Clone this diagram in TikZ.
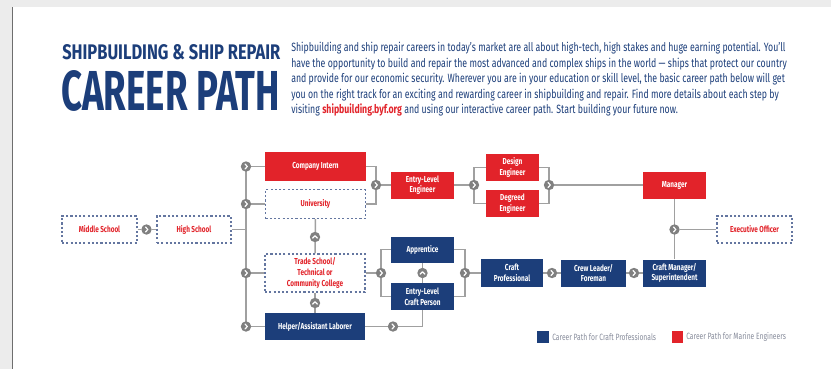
\documentclass[tikz,border=0pt]{standalone}
\usepackage{fontspec}
\usepackage{graphicx}
\usetikzlibrary{backgrounds}
\setmainfont{Fira Sans}
\newfontfamily\condf[FakeStretch=0.73]{Fira Sans}
\newfontfamily\boxf[FakeStretch=0.74]{Fira Sans}
\definecolor{navy}{RGB}{28,62,122}
\definecolor{engred}{RGB}{226,35,42}
\definecolor{dashblue}{RGB}{100,118,160}
\definecolor{conngray}{RGB}{160,160,160}
\definecolor{circgray}{RGB}{128,128,128}
\definecolor{bggray}{RGB}{236,236,236}
\definecolor{edgegray}{RGB}{110,110,110}
\definecolor{leggray}{RGB}{135,140,155}
\tikzset{
  sz/.style 2 args={minimum width={#1*0.75pt},minimum height={#2*0.75pt}},
  labelfont/.style={font=\boxf\bfseries\fontsize{6.5}{8}\selectfont},
  redbox/.style={labelfont,fill=engred,text=white,align=center,inner sep=0pt},
  bluebox/.style={labelfont,fill=navy,text=white,align=center,inner sep=0pt},
  dashbox/.style={labelfont,draw=dashblue,line width=1.1pt,dash pattern=on 1.6pt off 1.6pt,fill=white,text=engred,align=center,inner sep=0pt},
  conn/.style={draw=conngray,line width=1.1pt},
  chevbase/.style={circle,fill=circgray,minimum size=7.8pt,inner sep=0pt},
  rchev/.style={chevbase,path picture={\draw[white,line width=0.9pt,line cap=round,line join=round]
      ([shift={(-0.7pt,1.8pt)}]path picture bounding box.center) -- ++(1.7pt,-1.8pt) -- ++(-1.7pt,-1.8pt);}},
  uchev/.style={chevbase,path picture={\draw[white,line width=0.9pt,line cap=round,line join=round]
      ([shift={(-1.8pt,-0.8pt)}]path picture bounding box.center) -- ++(1.8pt,1.7pt) -- ++(1.8pt,-1.7pt);}},
  legsq/.style={fill=#1,minimum size=8.8pt,inner sep=0pt},
  legtext/.style={text=leggray,font=\boxf\fontsize{6.8}{8}\selectfont,anchor=west,inner sep=0pt}
}
\begin{document}
\begin{tikzpicture}[x=0.75pt,y=-0.75pt]
\useasboundingbox (0,0) rectangle (831,369);
% header
\node[anchor=south west,inner sep=0pt,text=navy] (t1) at (62,60)
  {\resizebox{163.5pt}{11.25pt}{\bfseries SHIPBUILDING \& SHIP REPAIR}};
\node[anchor=south west,inner sep=0pt,text=navy] (t2) at (61,112)
  {\resizebox{164pt}{30pt}{\bfseries CAREER PATH}};
\node[anchor=north west,inner sep=0pt,text=navy,align=left,font=\condf\fontsize{9}{11.6}\selectfont] (para) at (291,42)
  {Shipbuilding and ship repair careers in today’s market are all about high-tech, high stakes and huge earning potential. You’ll\\
   have the opportunity to build and repair the most advanced and complex ships in the world — ships that protect our country\\
   and provide for our economic security. Wherever you are in your education or skill level, the basic career path below will get\\
   you on the right track for an exciting and rewarding career in shipbuilding and repair. Find more details about each step by\\
   visiting {\color{engred}\bfseries shipbuilding.byf.org} and using our interactive career path. Start building your future now.};
% education boxes
\node[dashbox,sz={75}{27}] (ms) at (99.5,229.5) {Middle School};
\node[rchev] (c0) at (146.5,229.5) {};
\node[dashbox,sz={74}{27}] (hs) at (194,229.5) {High School};
% bus circles
\node[rchev] (cb1) at (246,166.5) {};
\node[rchev] (cb2) at (246,204) {};
\node[rchev] (cb3) at (246,273) {};
\node[rchev] (cb4) at (246,326.5) {};
% column 1
\node[redbox,sz={101}{29}] (ci) at (315.5,166.5) {Company Intern};
\node[dashbox,sz={100}{29}] (uni) at (315.5,204) {University};
\node[uchev] (up1) at (315,237) {};
\node[dashbox,sz={100}{38}] (ts) at (315,273) {Trade School/\\Technical or\\Community College};
\node[uchev] (up2) at (315,303) {};
\node[bluebox,sz={100}{27}] (hlp) at (315,326.5) {Helper/Assistant Laborer};
% engineers
\node[rchev] (ce) at (376,185) {};
\node[redbox,sz={63}{27}] (ele) at (422.5,185) {Entry-Level\\Engineer};
\node[rchev] (cf) at (474,185) {};
\node[redbox,sz={53}{27}] (de) at (512.5,167.5) {Design\\Engineer};
\node[redbox,sz={53}{27}] (dg) at (512.5,203.5) {Degreed\\Engineer};
\node[rchev] (cg) at (549,185) {};
\node[redbox,sz={63}{27}] (mgr) at (674.5,185) {Manager};
\node[rchev] (ch) at (674.5,229.5) {};
\node[dashbox,sz={75}{27}] (eo) at (754.5,229.5) {Executive Officer};
% craft
\node[rchev] (ci2) at (381,273) {};
\node[bluebox,sz={63}{26}] (ap) at (422.5,249.5) {Apprentice};
\node[uchev] (up3) at (422.5,273) {};
\node[bluebox,sz={63}{27}] (ecp) at (422.5,296.5) {Entry-Level\\Craft Person};
\node[rchev] (cj) at (465,273) {};
\node[bluebox,sz={62}{28}] (cp) at (512,273) {Craft\\Professional};
\node[rchev] (ck) at (552,273) {};
\node[bluebox,sz={65}{27}] (cl) at (593.5,273) {Crew Leader/\\Foreman};
\node[rchev] (cl2) at (634,273) {};
\node[bluebox,sz={63}{27}] (cm) at (674.5,273) {Craft Manager/\\Superintendent};
\node[rchev] (cm2) at (393,326.5) {};
% legend
\node[legsq=navy] (lg1) at (543,337) {};
\node[legtext] (lt1) at (552,337) {Career Path for Craft Professionals};
\node[legsq=engred] (lg2) at (677.5,337) {};
\node[legtext] (lt2) at (686,337) {Career Path for Marine Engineers};
% background and connectors
\begin{scope}[on background layer]
  \fill[bggray] (0,0) rectangle (831,369);
  \fill[white] (13,7) rectangle (831,369);
  \draw[edgegray,line width=0.8pt] (12.6,7) -- (12.6,369);
  \draw[conn] (ms) -- (c0);
  \draw[conn] (c0) -- (hs);
  \draw[conn] (cb1.center) -- (cb4.center);
  \draw[conn] (hs.east) -- (hs.east -| cb1.center);
  \draw[conn] (cb1) -- (ci);
  \draw[conn] (cb2) -- (uni);
  \draw[conn] (cb3) -- (ts);
  \draw[conn] (cb4) -- (hlp);
  \draw[conn] (uni) -- (ts);
  \draw[conn] (ts) -- (hlp);
  \draw[conn] (ci.east) -| (ce.center);
  \draw[conn] (uni.east) -| (ce.center);
  \draw[conn] (ce) -- (ele);
  \draw[conn] (ele) -- (cf);
  \draw[conn] (cf.center) |- (de.west);
  \draw[conn] (cf.center) |- (dg.west);
  \draw[conn] (de.east) -| (cg.center);
  \draw[conn] (dg.east) -| (cg.center);
  \draw[conn] (cg) -- (mgr);
  \draw[conn] (mgr) -- (cm);
  \draw[conn] (ch) -- (eo);
  \draw[conn] (ts) -- (ci2);
  \draw[conn] (ci2.center) |- (ap.west);
  \draw[conn] (ci2.center) |- (ecp.west);
  \draw[conn] (ap) -- (ecp);
  \draw[conn] (ap.east) -| (cj.center);
  \draw[conn] (ecp.east) -| (cj.center);
  \draw[conn] (cj) -- (cp);
  \draw[conn] (cp) -- (ck);
  \draw[conn] (ck) -- (cl);
  \draw[conn] (cl) -- (cl2);
  \draw[conn] (cl2) -- (cm);
  \draw[conn] (hlp) -- (cm2);
  \draw[conn] (cm2.center) -| (ecp.south);
\end{scope}
\end{tikzpicture}
\end{document}
